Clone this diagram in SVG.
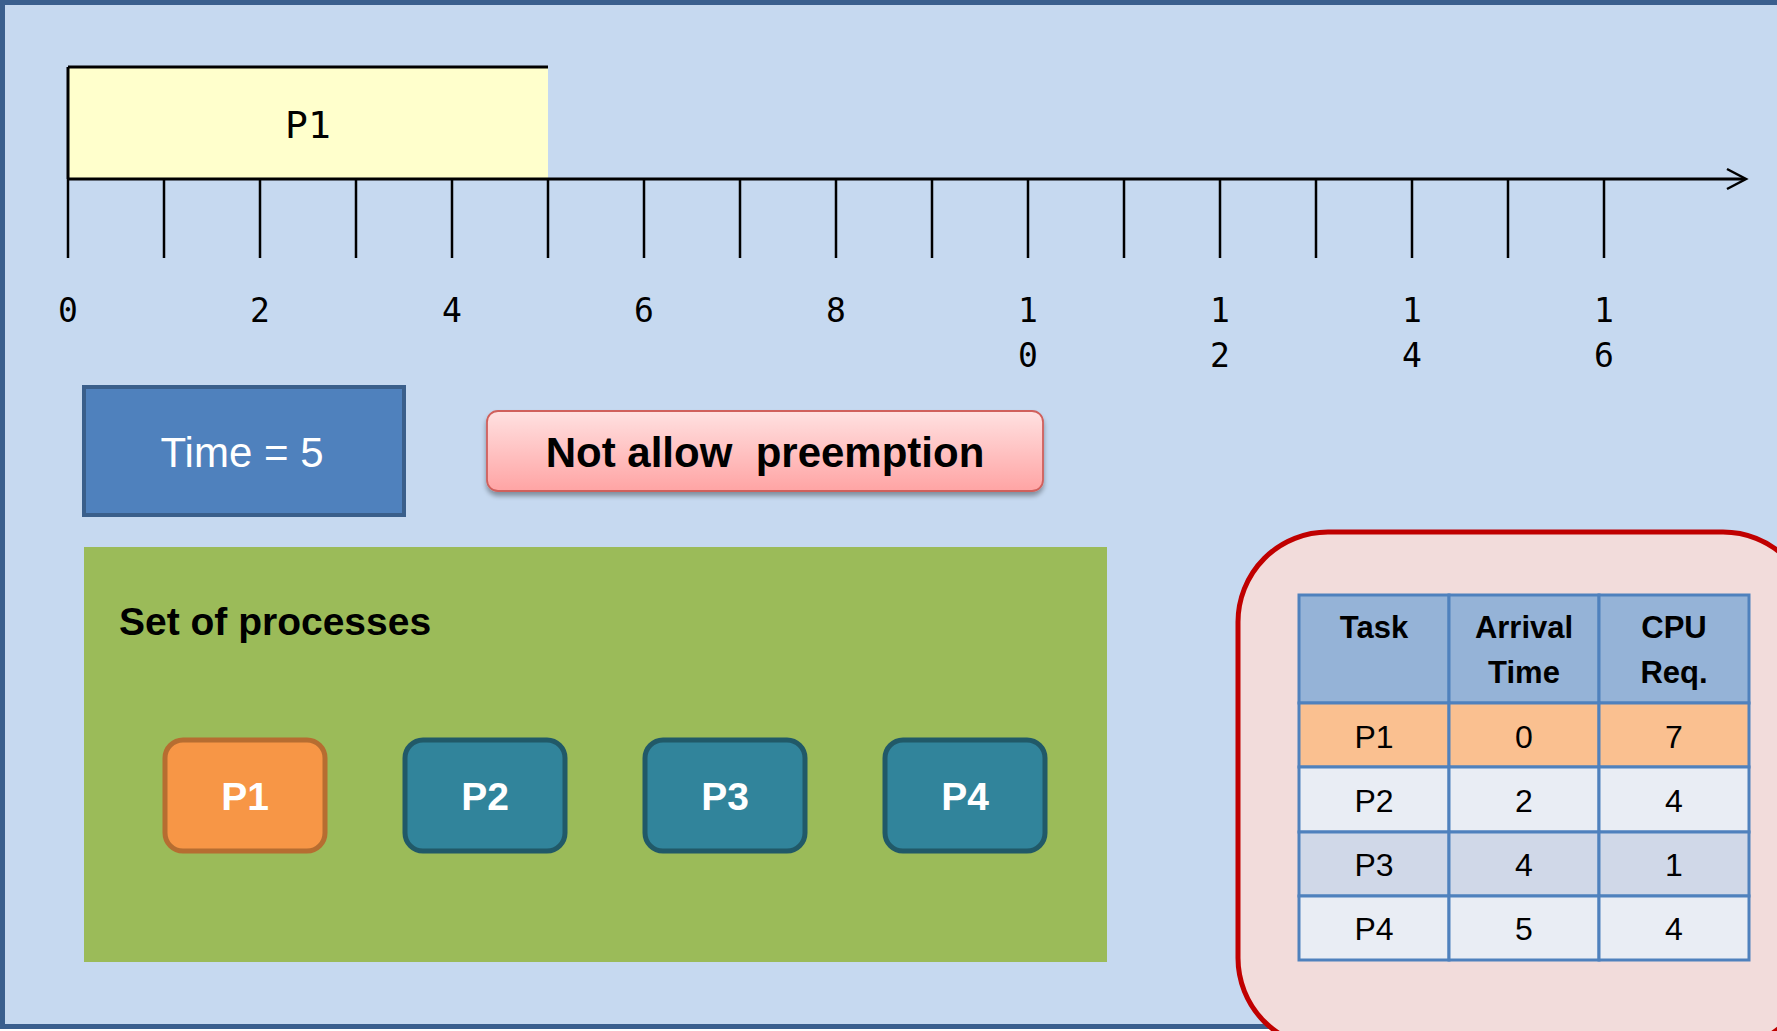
<svg xmlns="http://www.w3.org/2000/svg" width="1777" height="1031" viewBox="0 0 1777 1031">
<style>
.mono{font-family:"DejaVu Sans Mono","Liberation Mono",monospace;fill:#000}
.tl{font-size:33px;text-anchor:middle}
.tick{stroke:#000;stroke-width:2.5}
.sans{font-family:"Liberation Sans",Arial,sans-serif}
.proc rect{stroke-width:5}
.proc text{font-family:"Liberation Sans",Arial,sans-serif;font-weight:bold;font-size:39px;fill:#fff;text-anchor:middle}
.cell{stroke:#4F81BD;stroke-width:3}
.th{font-family:"Liberation Sans",Arial,sans-serif;font-weight:bold;font-size:31px;text-anchor:middle;fill:#000}
.td{font-family:"Liberation Sans",Arial,sans-serif;font-size:32px;text-anchor:middle;fill:#000}
</style>
<defs>
<linearGradient id="pink" x1="0" y1="0" x2="0" y2="1">
<stop offset="0" stop-color="#FFE1E1"/>
<stop offset="1" stop-color="#FFA4A4"/>
</linearGradient>
<filter id="shadow" x="-5%" y="-20%" width="110%" height="150%">
<feGaussianBlur in="SourceAlpha" stdDeviation="2.5"/>
<feOffset dx="0" dy="4" result="b"/>
<feComponentTransfer><feFuncA type="linear" slope="0.35"/></feComponentTransfer>
<feMerge><feMergeNode/><feMergeNode in="SourceGraphic"/></feMerge>
</filter>
</defs>

<g id="background">
<rect x="2.5" y="2.5" width="1800" height="1024" fill="#C6D9F0" stroke="#3A5F8E" stroke-width="5"/>
</g>

<g id="gantt-p1">
<rect x="68" y="67" width="480" height="112" fill="#FFFFCC"/>
<path d="M68 67 H548 M68 67 V179" stroke="#000" stroke-width="3" fill="none"/>
<text class="mono" x="308" y="138" font-size="38" text-anchor="middle">P1</text>
</g>

<g id="connectors">
<line x1="68" y1="179" x2="1745" y2="179" stroke="#000" stroke-width="3"/>
<polyline points="1727,169 1746,179 1727,189" fill="none" stroke="#000" stroke-width="2.5"/>
<g class="tick">
<line x1="68" y1="179" x2="68" y2="258"/>
<line x1="164" y1="179" x2="164" y2="258"/>
<line x1="260" y1="179" x2="260" y2="258"/>
<line x1="356" y1="179" x2="356" y2="258"/>
<line x1="452" y1="179" x2="452" y2="258"/>
<line x1="548" y1="179" x2="548" y2="258"/>
<line x1="644" y1="179" x2="644" y2="258"/>
<line x1="740" y1="179" x2="740" y2="258"/>
<line x1="836" y1="179" x2="836" y2="258"/>
<line x1="932" y1="179" x2="932" y2="258"/>
<line x1="1028" y1="179" x2="1028" y2="258"/>
<line x1="1124" y1="179" x2="1124" y2="258"/>
<line x1="1220" y1="179" x2="1220" y2="258"/>
<line x1="1316" y1="179" x2="1316" y2="258"/>
<line x1="1412" y1="179" x2="1412" y2="258"/>
<line x1="1508" y1="179" x2="1508" y2="258"/>
<line x1="1604" y1="179" x2="1604" y2="258"/>
</g>
</g>

<g id="axis-labels" class="mono tl">
<text x="68" y="322">0</text>
<text x="260" y="322">2</text>
<text x="452" y="322">4</text>
<text x="644" y="322">6</text>
<text x="836" y="322">8</text>
<text x="1028" y="322">1</text><text x="1028" y="367">0</text>
<text x="1220" y="322">1</text><text x="1220" y="367">2</text>
<text x="1412" y="322">1</text><text x="1412" y="367">4</text>
<text x="1604" y="322">1</text><text x="1604" y="367">6</text>
</g>

<g id="time-box">
<rect x="84" y="387" width="320" height="128" fill="#4F81BD" stroke="#3A5F8B" stroke-width="4"/>
<text class="sans" x="242" y="467" font-size="42" fill="#fff" text-anchor="middle">Time = 5</text>
</g>

<g id="preemption-box">
<rect x="487" y="411" width="556" height="80" rx="11" fill="url(#pink)" stroke="#D0605C" stroke-width="1.8" filter="url(#shadow)"/>
<text class="sans" x="765" y="467" font-size="42" font-weight="bold" fill="#000" text-anchor="middle" xml:space="preserve">Not allow  preemption</text>
</g>

<g id="process-set">
<rect x="84" y="547" width="1023" height="415" fill="#9BBB59"/>
<text class="sans" x="119" y="635" font-size="39" font-weight="bold" fill="#000">Set of processes</text>
</g>

<g id="proc-p1" class="proc">
<rect x="165" y="740" width="160" height="111" rx="18" fill="#F79646" stroke="#B66D31"/>
<text x="245" y="810">P1</text>
</g>
<g id="proc-p2" class="proc">
<rect x="405" y="740" width="160" height="111" rx="18" fill="#31849B" stroke="#215968"/>
<text x="485" y="810">P2</text>
</g>
<g id="proc-p3" class="proc">
<rect x="645" y="740" width="160" height="111" rx="18" fill="#31849B" stroke="#215968"/>
<text x="725" y="810">P3</text>
</g>
<g id="proc-p4" class="proc">
<rect x="885" y="740" width="160" height="111" rx="18" fill="#31849B" stroke="#215968"/>
<text x="965" y="810">P4</text>
</g>

<g id="task-panel">
<rect x="1238" y="532" width="575" height="516" rx="90" fill="#F2DCDB" stroke="#C00000" stroke-width="5"/>
</g>

<g id="task-table">
<rect class="cell" x="1299" y="595" width="150" height="108" fill="#95B3D7"/>
<rect class="cell" x="1449" y="595" width="150" height="108" fill="#95B3D7"/>
<rect class="cell" x="1599" y="595" width="150" height="108" fill="#95B3D7"/>
<rect class="cell" x="1299" y="703" width="150" height="64" fill="#FAC090"/>
<rect class="cell" x="1449" y="703" width="150" height="64" fill="#FAC090"/>
<rect class="cell" x="1599" y="703" width="150" height="64" fill="#FAC090"/>
<rect class="cell" x="1299" y="767" width="150" height="65" fill="#E9EDF4"/>
<rect class="cell" x="1449" y="767" width="150" height="65" fill="#E9EDF4"/>
<rect class="cell" x="1599" y="767" width="150" height="65" fill="#E9EDF4"/>
<rect class="cell" x="1299" y="832" width="150" height="64" fill="#D0D8E8"/>
<rect class="cell" x="1449" y="832" width="150" height="64" fill="#D0D8E8"/>
<rect class="cell" x="1599" y="832" width="150" height="64" fill="#D0D8E8"/>
<rect class="cell" x="1299" y="896" width="150" height="64" fill="#E9EDF4"/>
<rect class="cell" x="1449" y="896" width="150" height="64" fill="#E9EDF4"/>
<rect class="cell" x="1599" y="896" width="150" height="64" fill="#E9EDF4"/>
<text class="th" x="1374" y="638">Task</text>
<text class="th" x="1524" y="638">Arrival</text>
<text class="th" x="1524" y="683">Time</text>
<text class="th" x="1674" y="638">CPU</text>
<text class="th" x="1674" y="683">Req.</text>
<text class="td" x="1374" y="748">P1</text>
<text class="td" x="1524" y="748">0</text>
<text class="td" x="1674" y="748">7</text>
<text class="td" x="1374" y="812">P2</text>
<text class="td" x="1524" y="812">2</text>
<text class="td" x="1674" y="812">4</text>
<text class="td" x="1374" y="876">P3</text>
<text class="td" x="1524" y="876">4</text>
<text class="td" x="1674" y="876">1</text>
<text class="td" x="1374" y="940">P4</text>
<text class="td" x="1524" y="940">5</text>
<text class="td" x="1674" y="940">4</text>
</g>
</svg>
